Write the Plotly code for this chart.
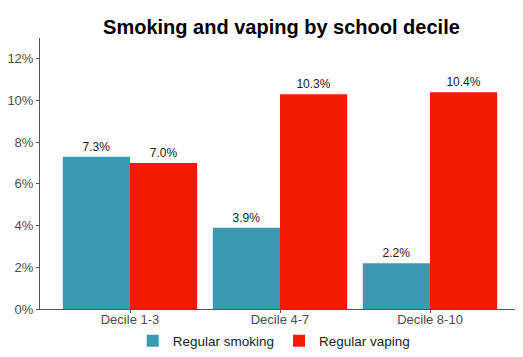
import plotly.graph_objects as go

categories = ["Decile 1-3", "Decile 4-7", "Decile 8-10"]
smoking = [7.3, 3.9, 2.2]
vaping = [7.0, 10.3, 10.4]
tick_vals = [0, 2, 4, 6, 8, 10, 12]
tick_text = ["0%", "2%", "4%", "6%", "8%", "10%", "12%"]

fig = go.Figure()
fig.add_trace(go.Bar(name="Regular smoking", x=categories, y=smoking,
                     marker=dict(color="#3B9AB2", line=dict(width=0)),
                     text=[f"{v:.1f}%" for v in smoking],
                     textposition="outside", cliponaxis=False,
                     textfont=dict(size=12, color="#222222")))
fig.add_trace(go.Bar(name="Regular vaping", x=categories, y=vaping,
                     marker=dict(color="#F21A00", line=dict(width=0)),
                     text=[f"{v:.1f}%" for v in vaping],
                     textposition="outside", cliponaxis=False,
                     textfont=dict(size=12, color="#222222")))

# page body has an 8px margin, so the figure is sized to fit the 523x357 window
fig.update_layout(
    width=515, height=349,
    margin=dict(l=32, r=3, t=30, b=48, autoexpand=False),
    paper_bgcolor="white", plot_bgcolor="white",
    font=dict(family="Liberation Sans, Arial, sans-serif", size=13, color="#4d4d4d"),
    title=dict(text="<b>Smoking and vaping by school decile</b>", x=0.531, xanchor="center",
               y=0.946, yanchor="middle", font=dict(size=20, color="black")),
    barmode="group", bargap=0.104, bargroupgap=0,
    legend=dict(orientation="h", x=0.488, xanchor="center", y=-0.118, yanchor="middle",
                font=dict(size=13.5, color="#222222"), itemwidth=30,
                tracegroupgap=0),
    showlegend=True,
)
fig.update_xaxes(range=[-0.6, 2.6], showline=True, linecolor="#555555", linewidth=1,
                 ticks="outside", ticklen=3, tickcolor="#555555", showgrid=False,
                 automargin=False, ticklabelstandoff=-5,
                 tickfont=dict(size=13, color="#4d4d4d"))
fig.update_yaxes(range=[0, 13], tickvals=tick_vals, ticktext=tick_text, showline=True,
                 linecolor="#555555", linewidth=1, ticks="outside", ticklen=3,
                 tickcolor="#555555", showgrid=False, zeroline=False, automargin=False,
                 tickfont=dict(size=13, color="#4d4d4d"))

fig.write_html("out.html")
